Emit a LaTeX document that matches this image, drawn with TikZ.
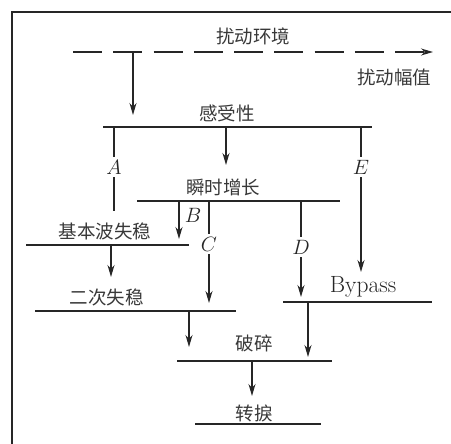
\documentclass[tikz,border=0pt]{standalone}
\usepackage{fontspec}
\newfontfamily\cjk{Noto Sans CJK SC}
\usetikzlibrary{arrows.meta}
\begin{document}
\begin{tikzpicture}[x=1pt,y=-1pt,
  ink/.style={draw=black!85,line width=1.5pt},
  arr/.style={ink,-{Stealth[length=12pt,width=7pt]}},
  lvl/.style={ink},
  cn/.style={font=\cjk\fontsize{18.5}{20}\selectfont,text=black!78,inner sep=0pt},
  lab/.style={font=\fontsize{20.5}{22}\selectfont,text=black!85,inner sep=0pt},
  gaplab/.style={lab,inner sep=3pt}]
\useasboundingbox (0,0) rectangle (451,444);
% frame
\draw[draw=black!85,line width=2.2pt] (12,444) -- (12,12) -- (451,12);

% texts
\node[cn] (env) at (253,36) {扰动环境};
\node[cn] (amp) at (394,77) {扰动幅值};
\node[cn] (rec) at (227,113) {感受性};
\node[cn] (tg)  at (223,187) {瞬时增长};
\node[cn] (bw)  at (105,231) {基本波失稳};
\node[cn] (sec) at (107,297) {二次失稳};
\node[lab,font=\fontsize{23.5}{25}\selectfont] (byp) at (363,287) {Bypass};
\node[cn] (brk) at (254,343) {破碎};
\node[cn] (tr)  at (254,413) {转捩};

% dashed disturbance axis
\coordinate (d0) at (73,52);
\coordinate (d1) at (433,52);
\draw[ink,dash pattern=on 29pt off 11.25pt,-{Stealth[length=12pt,width=7pt]}] (d0) -- (d1);
\coordinate (dj) at (133,52);
\coordinate (rj) at (133,115);
\draw[arr] (dj) -- (rj);

% receptivity level
\coordinate (r0) at (103,127); \coordinate (r1) at (372,127);
\draw[lvl] (r0) -- (r1);
% transient growth level
\coordinate (t0) at (137,201); \coordinate (t1) at (340,201);
\draw[lvl] (t0) -- (t1);
% primary instability level
\coordinate (b0) at (26,245); \coordinate (b1) at (189,245);
\draw[lvl] (b0) -- (b1);
% secondary instability level
\coordinate (s0) at (35,311); \coordinate (s1) at (236,311);
\draw[lvl] (s0) -- (s1);
% bypass level
\coordinate (y0) at (283,302); \coordinate (y1) at (432,302);
\draw[lvl] (y0) -- (y1);
% breakdown level
\coordinate (k0) at (177,361); \coordinate (k1) at (332,361);
\draw[lvl] (k0) -- (k1);
% transition level
\coordinate (z0) at (195,424); \coordinate (z1) at (321,424);
\draw[lvl] (z0) -- (z1);

% path A
\node[gaplab] (A) at (114,167) {$A$};
\coordinate (aT) at (114,127); \coordinate (aB) at (114,211);
\draw[ink] (aT) -- (A.north);
\draw[ink] (A.south) -- (aB);
% to transient growth
\coordinate (gT) at (226,127); \coordinate (gB) at (226,165);
\draw[arr] (gT) -- (gB);
% path E
\node[gaplab] (E) at (361,167) {$E$};
\coordinate (eT) at (361,127); \coordinate (eB) at (361,272);
\draw[ink] (eT) -- (E.north);
\draw[arr] (E.south) -- (eB);
% path B
\coordinate (bT) at (179,201); \coordinate (bB) at (179,239);
\draw[arr] (bT) -- (bB);
\node[lab] (B) at (193,215) {$B$};
% path C
\node[gaplab] (C) at (209,244) {$C$};
\coordinate (cT) at (209,201); \coordinate (cB) at (209,303);
\draw[ink] (cT) -- (C.north);
\draw[arr] (C.south) -- (cB);
% path D
\node[gaplab] (D) at (301,247) {$D$};
\coordinate (pT) at (301,201); \coordinate (pB) at (301,297);
\draw[ink] (pT) -- (D.north);
\draw[arr] (D.south) -- (pB);
% primary -> secondary
\coordinate (qT) at (111,245); \coordinate (qB) at (111,277);
\draw[arr] (qT) -- (qB);
% secondary -> breakdown
\coordinate (uT) at (189,311); \coordinate (uB) at (189,347);
\draw[arr] (uT) -- (uB);
% bypass -> breakdown
\coordinate (vT) at (308,302); \coordinate (vB) at (308,357);
\draw[arr] (vT) -- (vB);
% breakdown -> transition
\coordinate (wT) at (252,361); \coordinate (wB) at (252,396);
\draw[arr] (wT) -- (wB);
\end{tikzpicture}
\end{document}
